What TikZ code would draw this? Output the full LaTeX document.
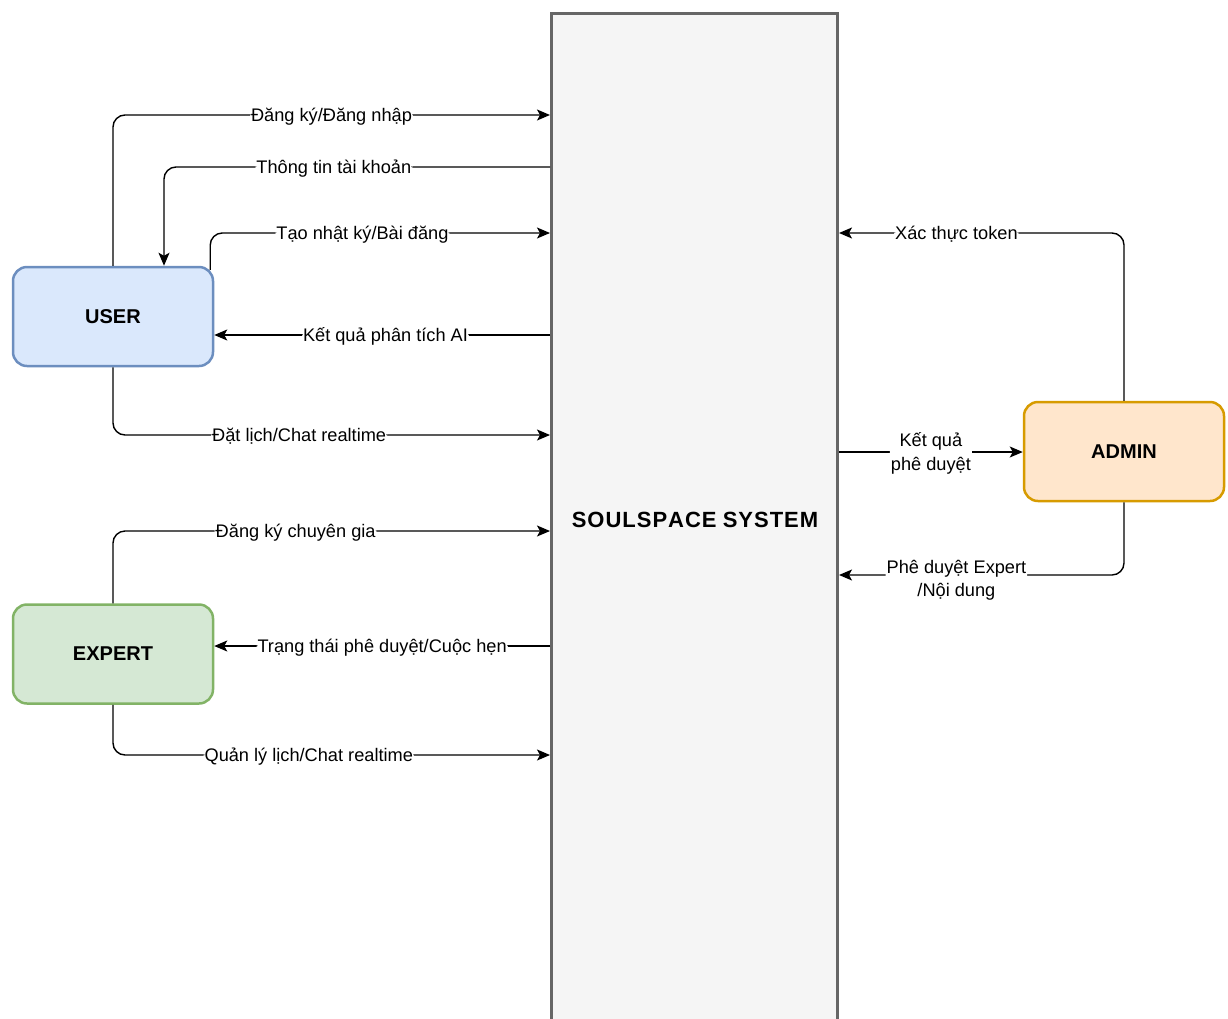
\documentclass[tikz,border=0pt]{standalone}
\usepackage{fontspec}
\setmainfont{Liberation Sans}
\usetikzlibrary{arrows.meta,calc}

\definecolor{userfill}{HTML}{DAE8FC}
\definecolor{userline}{HTML}{6C8EBF}
\definecolor{expfill}{HTML}{D5E8D4}
\definecolor{expline}{HTML}{82B366}
\definecolor{admfill}{HTML}{FFE6CC}
\definecolor{admline}{HTML}{D79B00}
\definecolor{sysfill}{HTML}{F5F5F5}
\definecolor{sysline}{HTML}{666666}

\tikzset{
  actor/.style={draw, rounded corners=14pt, line width=2.5pt,
    minimum width=200pt, minimum height=99pt, inner sep=0pt,
    font=\fontsize{20}{24}\selectfont\bfseries},
  flow/.style={line width=1.4pt, rounded corners=12pt,
    -{Stealth[length=13pt,width=11pt,inset=3pt]}},
  lbl/.style={fill=white, inner sep=1pt, yshift=-1.5pt,
    font=\fontsize{18.2}{23.5}\selectfont, align=center},
}

\begin{document}
\begin{tikzpicture}[x=1pt,y=-1pt]
\useasboundingbox (0,0) rectangle (1228,1018);

% central system block (runs off the bottom edge)
\node[draw=sysline, fill=sysfill, line width=3pt, minimum width=286pt,
      minimum height=1014pt, inner sep=0pt] (sys) at (694.5,520) {};
\node[font=\fontsize{22}{26}\selectfont\bfseries] (systxt) at (695,520)
  {S\kern1pt O\kern1pt U\kern1pt L\kern1pt S\kern1pt P\kern1pt A\kern1pt C\kern1pt E
   S\kern1pt Y\kern1pt S\kern1pt T\kern1pt E\kern1pt M};

% external actors
\node[actor, draw=userline, fill=userfill] (user) at (113,316.5) {USER};
\node[actor, draw=expline, fill=expfill] (expert) at (113,654) {EXPERT};
\node[actor, draw=admline, fill=admfill] (admin) at (1124,451.5) {ADMIN};

% USER flows
\draw[flow] (user.north) |- (sys.west |- 0,115)
  node[lbl, pos=0.75] (l1) {Đăng ký/Đăng nhập};
\draw[flow] (sys.west |- 0,167) -| ($(user.north)+(51,0)$)
  node[lbl, pos=0.28] (l2) {Thông tin tài khoản};
\draw[flow] ($(user.north east)+(-4,4)$) |- (sys.west |- 0,233)
  node[lbl, pos=0.724] (l3) {Tạo nhật ký/Bài đăng};
\draw[flow] (sys.west |- 0,335) -- (user.east |- 0,335)
  node[lbl, pos=0.49] (l4) {Kết quả phân tích AI};
\draw[flow] (user.south) |- (sys.west |- 0,435)
  node[lbl, pos=0.713] (l5) {Đặt lịch/Chat realtime};

% EXPERT flows
\draw[flow] (expert.north) |- (sys.west |- 0,531)
  node[lbl, pos=0.709] (l6) {Đăng ký chuyên gia};
\draw[flow] (sys.west |- 0,646) -- (expert.east |- 0,646)
  node[lbl, pos=0.5] (l7) {Trạng thái phê duyệt/Cuộc hẹn};
\draw[flow] (expert.south) |- (sys.west |- 0,755)
  node[lbl, pos=0.724] (l8) {Quản lý lịch/Chat realtime};

% ADMIN flows
\draw[flow] (admin.north) |- (sys.east |- 0,233)
  node[lbl, pos=0.794] (l9) {Xác thực token};
\draw[flow] (sys.east |- 0,452) -- (admin.west |- 0,452)
  node[lbl, pos=0.5] (l10) {Kết quả\\phê duyệt};
\draw[flow] (admin.south) |- (sys.east |- 0,575)
  node[lbl, pos=0.794, yshift=-4pt] (l11) {Phê duyệt Expert\\/Nội dung};
\end{tikzpicture}
\end{document}
